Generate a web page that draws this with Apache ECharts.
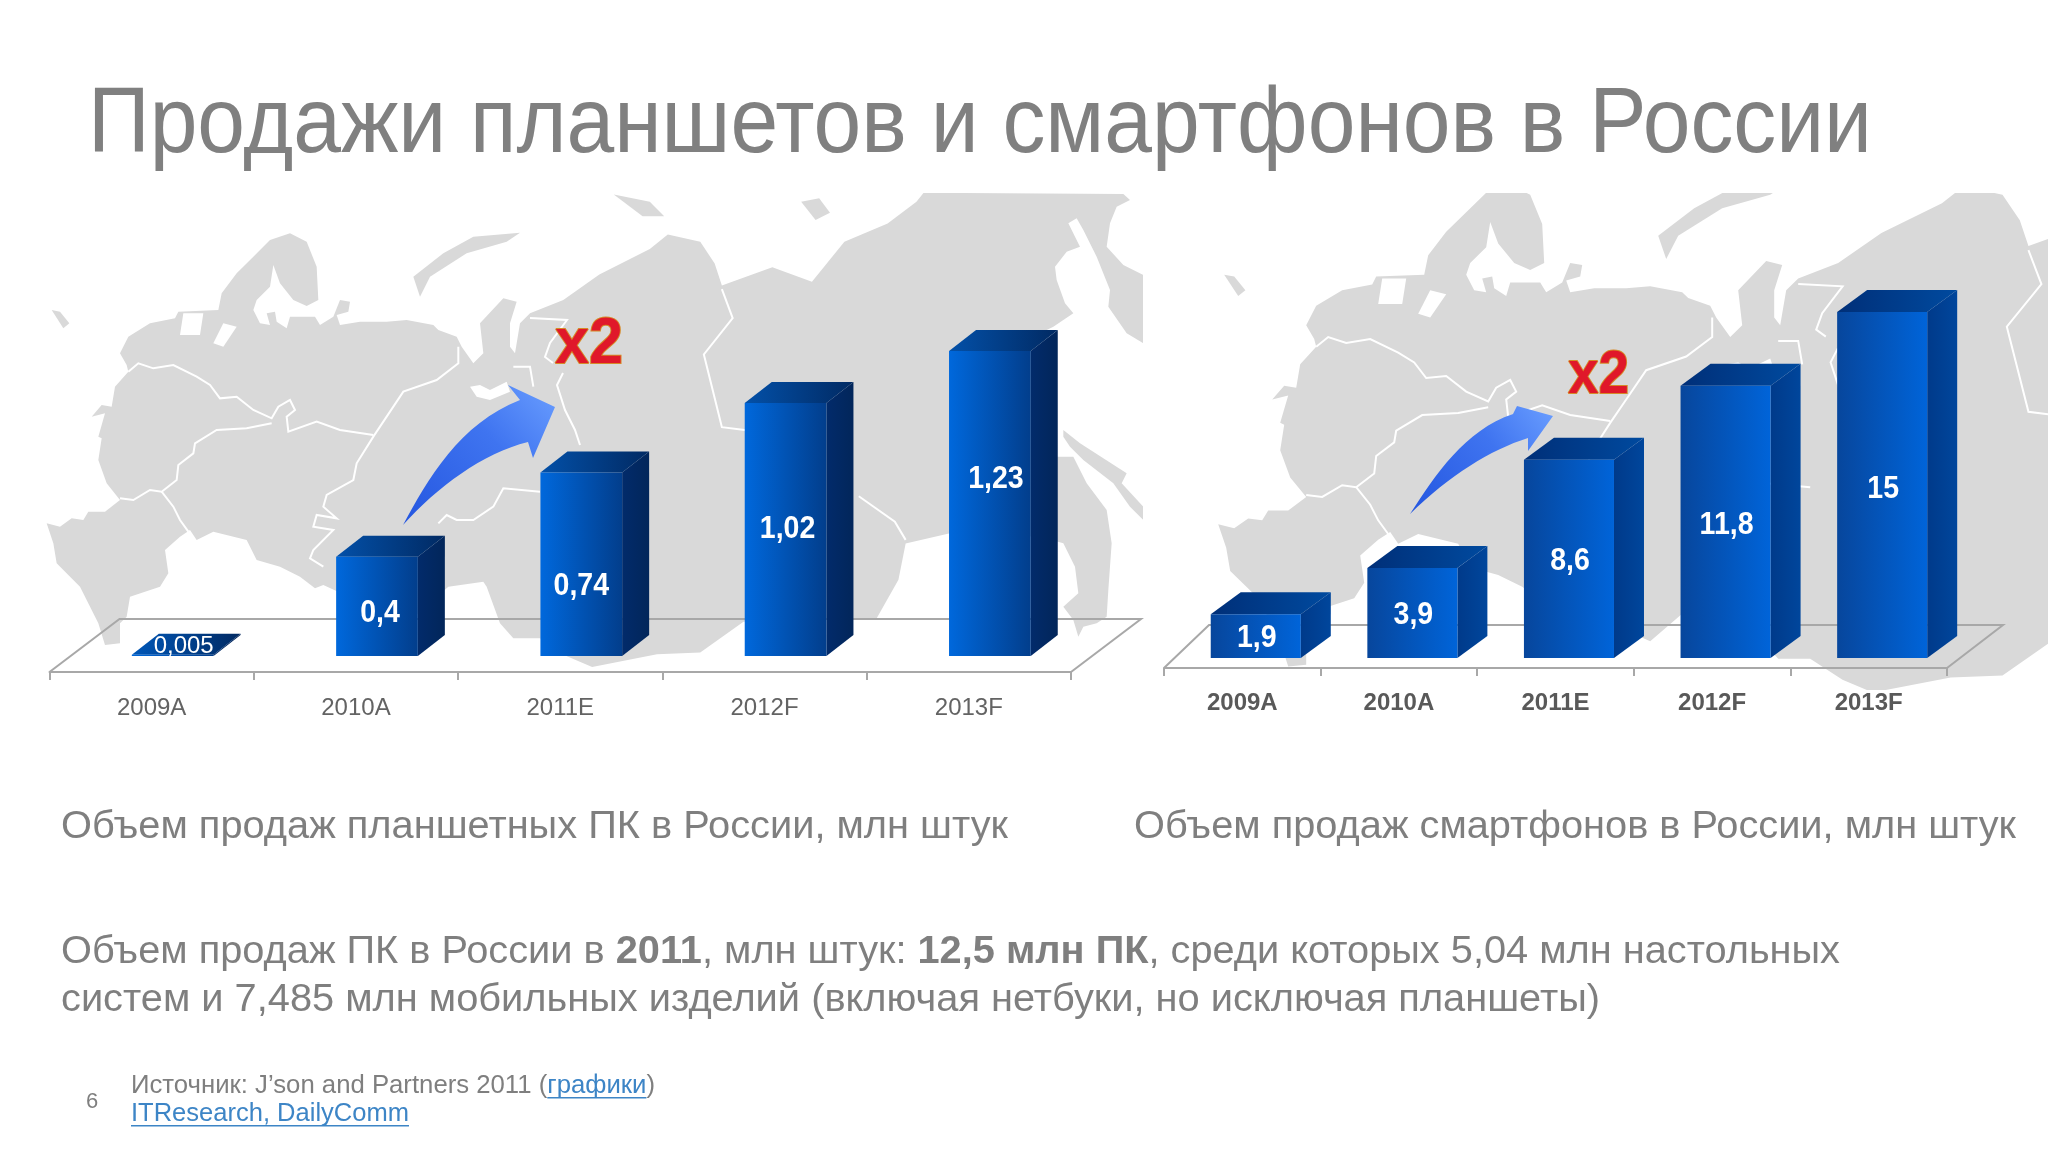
<!DOCTYPE html>
<html lang="ru">

<head>
  <meta charset="utf-8">
  <title>Продажи планшетов и смартфонов в России</title>
  <style>
    html, body { margin: 0; background: #fff; }
    #chart { width: 2048px; height: 1152px; }
  </style>
</head>

<body>
  <div id="chart"></div>
  <script src="https://cdn.jsdelivr.net/npm/echarts@6/dist/echarts.min.js"></script>
  <script>
    // chart data
    var categories = ['2009A', '2010A', '2011E', '2012F', '2013F'];
    var tabletValues = [0.005, 0.4, 0.74, 1.02, 1.23];
    var phoneValues = [1.9, 3.9, 8.6, 11.8, 15];
    // where each value label sits: px below the bar top, px right of the bar centre
    var tabletLabelDrop = [-8, 57, 114, 126, 128];
    var tabletLabelNudge = [11, 3, 0, 2, 6];
    var phoneLabelDrop = [24, 47, 102, 140, 177];
    var phoneLabelNudge = [1, 1, 1, 1, 1];

    var FONT = '"Liberation Sans", Arial, sans-serif';
    var GREY = '#7f7f7f';
    var LAND = '#d9d9d9';

    function fromA(p) { return [40 + p[0] / 3, 190 + p[1] / 3]; }
    function fromB(p) { return [30 + p[0] * 0.7207, 180 + p[1] * 0.3635]; }
    function fromC(p) { return [940 + p[0] / 3, 190 + p[1] / 3]; }

    var mainland = [].concat(
      [[20, 1000], [60, 1010], [95, 985], [130, 990], [145, 965], [195, 965], [240, 930], [200, 880], [175, 810], [185, 745],
       [175, 740], [195, 670], [155, 680], [185, 645], [215, 650], [225, 590], [265, 545], [260, 525], [240, 490], [265, 440],
       [330, 400], [405, 385], [415, 365], [535, 360], [545, 310], [590, 250], [640, 200], [690, 150], [750, 130], [800, 155],
       [830, 230], [835, 330], [800, 348], [760, 330], [720, 280], [700, 225], [690, 290], [650, 330], [640, 360], [660, 400],
       [690, 405], [680, 370], [705, 365], [710, 395], [740, 415], [750, 380], [825, 380], [840, 405], [880, 380], [900, 330],
       [930, 335], [925, 365], [890, 375], [900, 405], [960, 395], [1040, 395], [1100, 390], [1180, 405], [1195, 420],
       [1250, 440], [1265, 470], [1300, 520], [1330, 490], [1320, 400], [1390, 325], [1430, 335], [1410, 400], [1410, 470],
       [1425, 490], [1440, 400], [1470, 370]].map(fromA),
      [[740, 330], [790, 260], [860, 190], [885, 150], [930, 170], [950, 230], [960, 290], [1030, 240], [1085, 280],
       [1130, 170], [1190, 120], [1230, 60], [1240, 35]].map(fromB),
      [[550, 12], [570, 30], [530, 50], [510, 100], [500, 170], [550, 225], [610, 255], [610, 460], [560, 430], [505, 350],
       [510, 300], [470, 200], [430, 120], [410, 85], [385, 100], [420, 170], [380, 185], [345, 230], [350, 270], [375, 340],
       [400, 370], [340, 410], [320, 420], [300, 700], [340, 800], [365, 800], [400, 800], [440, 880], [500, 960], [515, 1060],
       [505, 1200], [500, 1280], [470, 1300], [430, 1310], [415, 1340], [400, 1290], [370, 1250], [415, 1210], [405, 1130],
       [370, 1060], [300, 1040], [30, 1030]].map(fromC),
      [[1215, 1000], [1205, 1100], [1175, 1205], [1100, 1210], [990, 1215], [930, 1300], [870, 1305], [780, 1340], [745, 1310]].map(fromB),
      [[1500, 1345], [1420, 1345], [1380, 1300], [1340, 1190], [1330, 1175], [1225, 1190], [1100, 1300], [850, 1185], [825, 1195],
       [780, 1160], [720, 1130], [650, 1110], [620, 1050], [520, 1025], [470, 1050], [450, 1020], [420, 1040], [375, 1080],
       [385, 1150], [360, 1190], [270, 1220], [260, 1280], [240, 1300], [240, 1360], [195, 1365], [175, 1300], [120, 1190],
       [50, 1120], [40, 1060]].map(fromA)
    );
    var islands = [
      [[1120, 260], [1210, 190], [1300, 140], [1440, 128], [1400, 155], [1280, 190], [1170, 260], [1140, 320]].map(fromA),
      [[35, 360], [60, 365], [88, 400], [70, 415]].map(fromA),
      [[810, 40], [860, 60], [880, 100], [850, 100]].map(fromB),
      [[1070, 60], [1095, 50], [1110, 90], [1090, 110]].map(fromB),
      [[370, 720], [420, 760], [560, 850], [545, 880], [610, 950], [610, 990], [570, 950], [520, 880], [430, 810], [390, 770], [370, 740]].map(fromC)
    ];
    var lakes = [
      [[430, 370], [490, 370], [480, 435], [420, 435]].map(fromA),
      [[550, 400], [590, 410], [550, 470], [520, 460]].map(fromA),
      [[1290, 590], [1320, 585], [1350, 600], [1400, 575], [1410, 605], [1350, 630], [1310, 620]].map(fromA)
    ];
    var borders = [
      [[265, 545], [295, 520], [340, 535], [400, 525], [470, 560], [510, 585], [540, 625], [590, 620], [640, 660], [695, 685], [715, 650],
       [750, 630], [765, 660], [740, 680], [745, 725], [830, 695], [900, 720], [1000, 735]].map(fromA),
      [[695, 700], [620, 715], [530, 720], [465, 760], [460, 790], [415, 825], [410, 870], [365, 905], [330, 900], [280, 930], [240, 925]].map(fromA),
      [[365, 905], [400, 950], [420, 990], [445, 1025]].map(fromA),
      [[1255, 470], [1255, 520], [1190, 570], [1090, 605], [1040, 680], [1000, 740], [950, 820], [940, 870], [860, 915], [850, 950], [890, 985],
       [830, 975], [820, 1010], [880, 1020], [820, 1080], [810, 1105], [850, 1130]].map(fromA),
      [[1195, 1000], [1220, 975], [1250, 990], [1300, 990], [1360, 950], [1390, 895], [1500, 905]].map(fromA),
      [[1420, 530], [1470, 530], [1480, 590]].map(fromA),
      [[563, 373], [557, 385], [565, 410], [575, 430], [580, 445]],
      [[530, 318], [567, 320], [550, 343], [545, 357], [553, 363]],
      [[960, 300], [975, 380], [935, 480], [950, 600], [960, 680], [1000, 690]].map(fromB),
      [[1150, 870], [1200, 940], [1215, 990]].map(fromB)
    ];

    // the right map is the same outline, a bit larger
    function toRightMap(p) { return [1233 + (p[0] - 59) * 1.2, 284 + (p[1] - 318) * 1.17]; }
    function sameMap(p) { return p; }

    function mapElements(move) {
      var els = [];
      [mainland].concat(islands).forEach(function (pts) {
        els.push({ type: 'polygon', silent: true, shape: { points: pts.map(move) }, style: { fill: LAND } });
      });
      lakes.forEach(function (pts) {
        els.push({ type: 'polygon', silent: true, shape: { points: pts.map(move) }, style: { fill: '#fff' } });
      });
      borders.forEach(function (pts) {
        els.push({ type: 'polyline', silent: true, shape: { points: pts.map(move) }, style: { fill: null, stroke: '#fff', lineWidth: 2 } });
      });
      return els;
    }

    function whiteBox(x, y, w, h) {
      return { type: 'rect', silent: true, shape: { x: x, y: y, width: w, height: h }, style: { fill: '#fff' } };
    }

    var measure = document.createElement('canvas').getContext('2d');

    // lays runs of text on one baseline, squeezed to the width
    function textLine(runs, x, baseline, size, width) {
      var els = [];
      var total = 0;
      runs.forEach(function (r) {
        r.font = (r.bold ? 'bold ' : '') + size + 'px ' + FONT;
        measure.font = r.font;
        r.w = measure.measureText(r.text).width;
        total += r.w;
      });
      var k = width ? width / total : 1;
      var cx = x;
      runs.forEach(function (r) {
        els.push({
          type: 'text', silent: true, x: cx, y: baseline - size * 0.27, scaleX: k,
          style: { text: r.text, font: r.font, fill: r.color || GREY, align: 'left', verticalAlign: 'middle' }
        });
        if (r.link) {
          els.push({
            type: 'rect', silent: true,
            shape: { x: cx, y: baseline + 4, width: r.w * k, height: 1.5 }, style: { fill: r.color }
          });
        }
        cx += r.w * k;
      });
      return els;
    }

    function sampleCurve(p0, c1, c2, p3) {
      var pts = [];
      for (var i = 0; i <= 16; i++) {
        var t = i / 16, u = 1 - t;
        pts.push([
          u * u * u * p0[0] + 3 * u * u * t * c1[0] + 3 * u * t * t * c2[0] + t * t * t * p3[0],
          u * u * u * p0[1] + 3 * u * u * t * c1[1] + 3 * u * t * t * c2[1] + t * t * t * p3[1]
        ]);
      }
      return pts;
    }

    function arrow(points) {
      return {
        type: 'polygon', silent: true, z: 5, shape: { points: points },
        style: {
          fill: new echarts.graphic.LinearGradient(0, 1, 1, 0, [
            { offset: 0, color: '#2456e0' },
            { offset: 0.6, color: '#3f74f0' },
            { offset: 1, color: '#6a9eff' }
          ])
        }
      };
    }

    function timesTwo(x, baseline, size, width) {
      var font = 'bold ' + size + 'px ' + FONT;
      measure.font = font;
      return {
        type: 'text', silent: true, z: 5, x: x, y: baseline - size * 0.27, scaleX: width / measure.measureText('x2').width,
        style: {
          text: 'x2', font: font, fill: '#e0182a', stroke: '#d68a28', lineWidth: 2, align: 'left', verticalAlign: 'middle',
          shadowColor: 'rgba(0,0,0,0.45)', shadowBlur: 6, shadowOffsetX: 2, shadowOffsetY: 3
        }
      };
    }

    // 3D look: front face, top and side, and the label on the front
    function barRenderer(o) {
      return function (params, api) {
        var base = api.coord([api.value(0), 0]);
        var top = api.coord([api.value(0), api.value(1)]);
        var band = api.size([1, 0])[0];
        var w = band * o.widthShare;
        var x0 = base[0] + band * o.shift - w / 2;
        var x1 = x0 + w;
        var small = api.value(1) < 0.01;
        var text = String(api.value(1)).replace('.', ',');
        return {
          type: 'group',
          children: [
            {
              type: 'polygon', shape: { points: [[x1, base[1]], [x1 + o.dx, base[1] - o.dy], [x1 + o.dx, top[1] - o.dy], [x1, top[1]]] },
              style: { fill: o.side }
            },
            {
              type: 'polygon', shape: { points: [[x0, top[1]], [x1, top[1]], [x1 + o.dx, top[1] - o.dy], [x0 + o.dx, top[1] - o.dy]] },
              style: { fill: small ? o.flat : o.top }
            },
            {
              type: 'rect', shape: { x: x0, y: top[1], width: w, height: base[1] - top[1] },
              style: { fill: o.front }
            },
            {
              type: 'text', x: (x0 + x1) / 2 + o.labelNudge[params.dataIndex], y: top[1] + o.labelDrop[params.dataIndex],
              scaleX: small ? 1 : 0.92,
              style: {
                text: text, fill: '#fff', align: 'center', verticalAlign: 'middle',
                font: (small ? '' : 'bold ') + (small ? 24 : 31) + 'px ' + FONT
              }
            }
          ]
        };
      };
    }

    // perspective floor: the front edge is the x axis itself
    function floorRenderer(o) {
      return function (params) {
        var s = params.coordSys;
        var y = s.y + s.height + o.drop;
        return {
          type: 'polyline',
          shape: {
            points: [[s.x, y], [s.x + o.backLeft, y - o.back], [s.x + s.width + o.backRight, y - o.back], [s.x + s.width, y]]
          },
          style: { fill: null, stroke: '#a8a8a8', lineWidth: 2 }
        };
      };
    }

    function gradient(a, b) {
      return new echarts.graphic.LinearGradient(0, 0, 1, 0, [{ offset: 0, color: a }, { offset: 1, color: b }]);
    }

    function xAxisFor(gridIndex, offset, margin, color, weight) {
      return {
        type: 'category', gridIndex: gridIndex, data: categories, offset: offset,
        axisLine: { onZero: false, lineStyle: { color: '#a8a8a8', width: 2 } },
        axisTick: { show: true, length: 8, lineStyle: { color: '#a8a8a8', width: 2 } },
        axisLabel: { margin: margin, interval: 0, color: color, fontSize: 24, fontWeight: weight, fontFamily: FONT },
        splitLine: { show: false }
      };
    }

    function seriesData(values) {
      return values.map(function (v, i) { return [i, v]; });
    }

    var graphicElements = [].concat(
      mapElements(sameMap),
      [whiteBox(1143, 180, 100, 640)],
      mapElements(toRightMap),
      [whiteBox(0, 0, 2048, 193), whiteBox(1143, 690, 905, 130)],
      [arrow([].concat(sampleCurve([403, 525], [427, 480], [460, 423], [520, 400]),
        [[508, 385], [555, 407], [533, 458], [528, 442]],
        sampleCurve([528, 442], [483, 453], [437, 487], [403, 525])))],
      [arrow([].concat(sampleCurve([1410, 514], [1435, 475], [1465, 430], [1513, 414]),
        [[1517, 406], [1553, 416], [1528, 451], [1528, 438]],
        sampleCurve([1528, 438], [1490, 450], [1450, 475], [1410, 514])))],
      [timesTwo(555, 363, 64, 68), timesTwo(1568, 393, 62, 61)],
      textLine([{ text: 'Продажи планшетов и смартфонов в России', color: '#808080' }], 88, 151, 92, 1784),
      textLine([{ text: 'Объем продаж планшетных ПК в России, млн штук' }], 61, 838, 38, 947),
      textLine([{ text: 'Объем продаж смартфонов в России, млн штук' }], 1134, 838, 38, 882),
      textLine([
        { text: 'Объем продаж ПК в России в ' },
        { text: '2011', bold: true },
        { text: ', млн штук: ' },
        { text: '12,5 млн ПК', bold: true },
        { text: ', среди которых 5,04 млн настольных' }
      ], 61, 963, 38, 1779),
      textLine([{ text: 'систем и 7,485 млн мобильных изделий (включая нетбуки, но исключая планшеты)' }], 61, 1011, 38, 1539),
      textLine([{ text: '6' }], 86, 1108, 22),
      textLine([
        { text: 'Источник: J’son and Partners 2011 (' },
        { text: 'графики', color: '#3d85c6', link: true },
        { text: ')' }
      ], 131, 1093, 25, 524),
      textLine([{ text: 'ITResearch, DailyComm', color: '#3d85c6', link: true }], 131, 1121, 25, 278)
    );

    var myChart = echarts.init(document.getElementById('chart'));

    myChart.setOption({
      animation: false,
      backgroundColor: '#fff',
      tooltip: { show: false },
      graphic: { elements: graphicElements },
      grid: [
        { left: 49.5, width: 1021.5, top: 284, height: 372 },
        { left: 1164, width: 783, top: 289, height: 369 }
      ],
      xAxis: [
        xAxisFor(0, 16, 24, '#636363', 'normal'),
        xAxisFor(1, 10, 23, '#595959', 'bold')
      ],
      yAxis: [
        { type: 'value', gridIndex: 0, min: 0, max: 1.5, show: false },
        { type: 'value', gridIndex: 1, min: 0, max: 16, show: false }
      ],
      series: [
        {
          type: 'custom', xAxisIndex: 0, yAxisIndex: 0, z: 1, silent: true, clip: false, data: [[0, 0]],
          renderItem: floorRenderer({ drop: 16, back: 53, backLeft: 70, backRight: 70 })
        },
        {
          type: 'custom', xAxisIndex: 1, yAxisIndex: 1, z: 1, silent: true, clip: false, data: [[0, 0]],
          renderItem: floorRenderer({ drop: 10, back: 43, backLeft: 45, backRight: 56 })
        },
        {
          type: 'custom', xAxisIndex: 0, yAxisIndex: 0, z: 2, silent: true, clip: false,
          encode: { x: 0, y: 1 },
          data: seriesData(tabletValues),
          renderItem: barRenderer({
            widthShare: 0.4, shift: 0.103, dx: 27, dy: 21, labelDrop: tabletLabelDrop, labelNudge: tabletLabelNudge,
            front: gradient('#0068dc', '#023e8c'),
            side: gradient('#022b6b', '#02265a'),
            top: gradient('#0350a8', '#012a63'),
            flat: gradient('#0057b8', '#012a63')
          })
        },
        {
          type: 'custom', xAxisIndex: 1, yAxisIndex: 1, z: 2, silent: true, clip: false,
          encode: { x: 0, y: 1 },
          data: seriesData(phoneValues),
          renderItem: barRenderer({
            widthShare: 0.575, shift: 0.086, dx: 30, dy: 22, labelDrop: phoneLabelDrop, labelNudge: phoneLabelNudge,
            front: gradient('#07469c', '#0064d9'),
            side: gradient('#003a8a', '#00469c'),
            top: gradient('#002f78', '#004a9f'),
            flat: gradient('#002f78', '#004a9f')
          })
        }
      ]
    });
  </script>
</body>

</html>
